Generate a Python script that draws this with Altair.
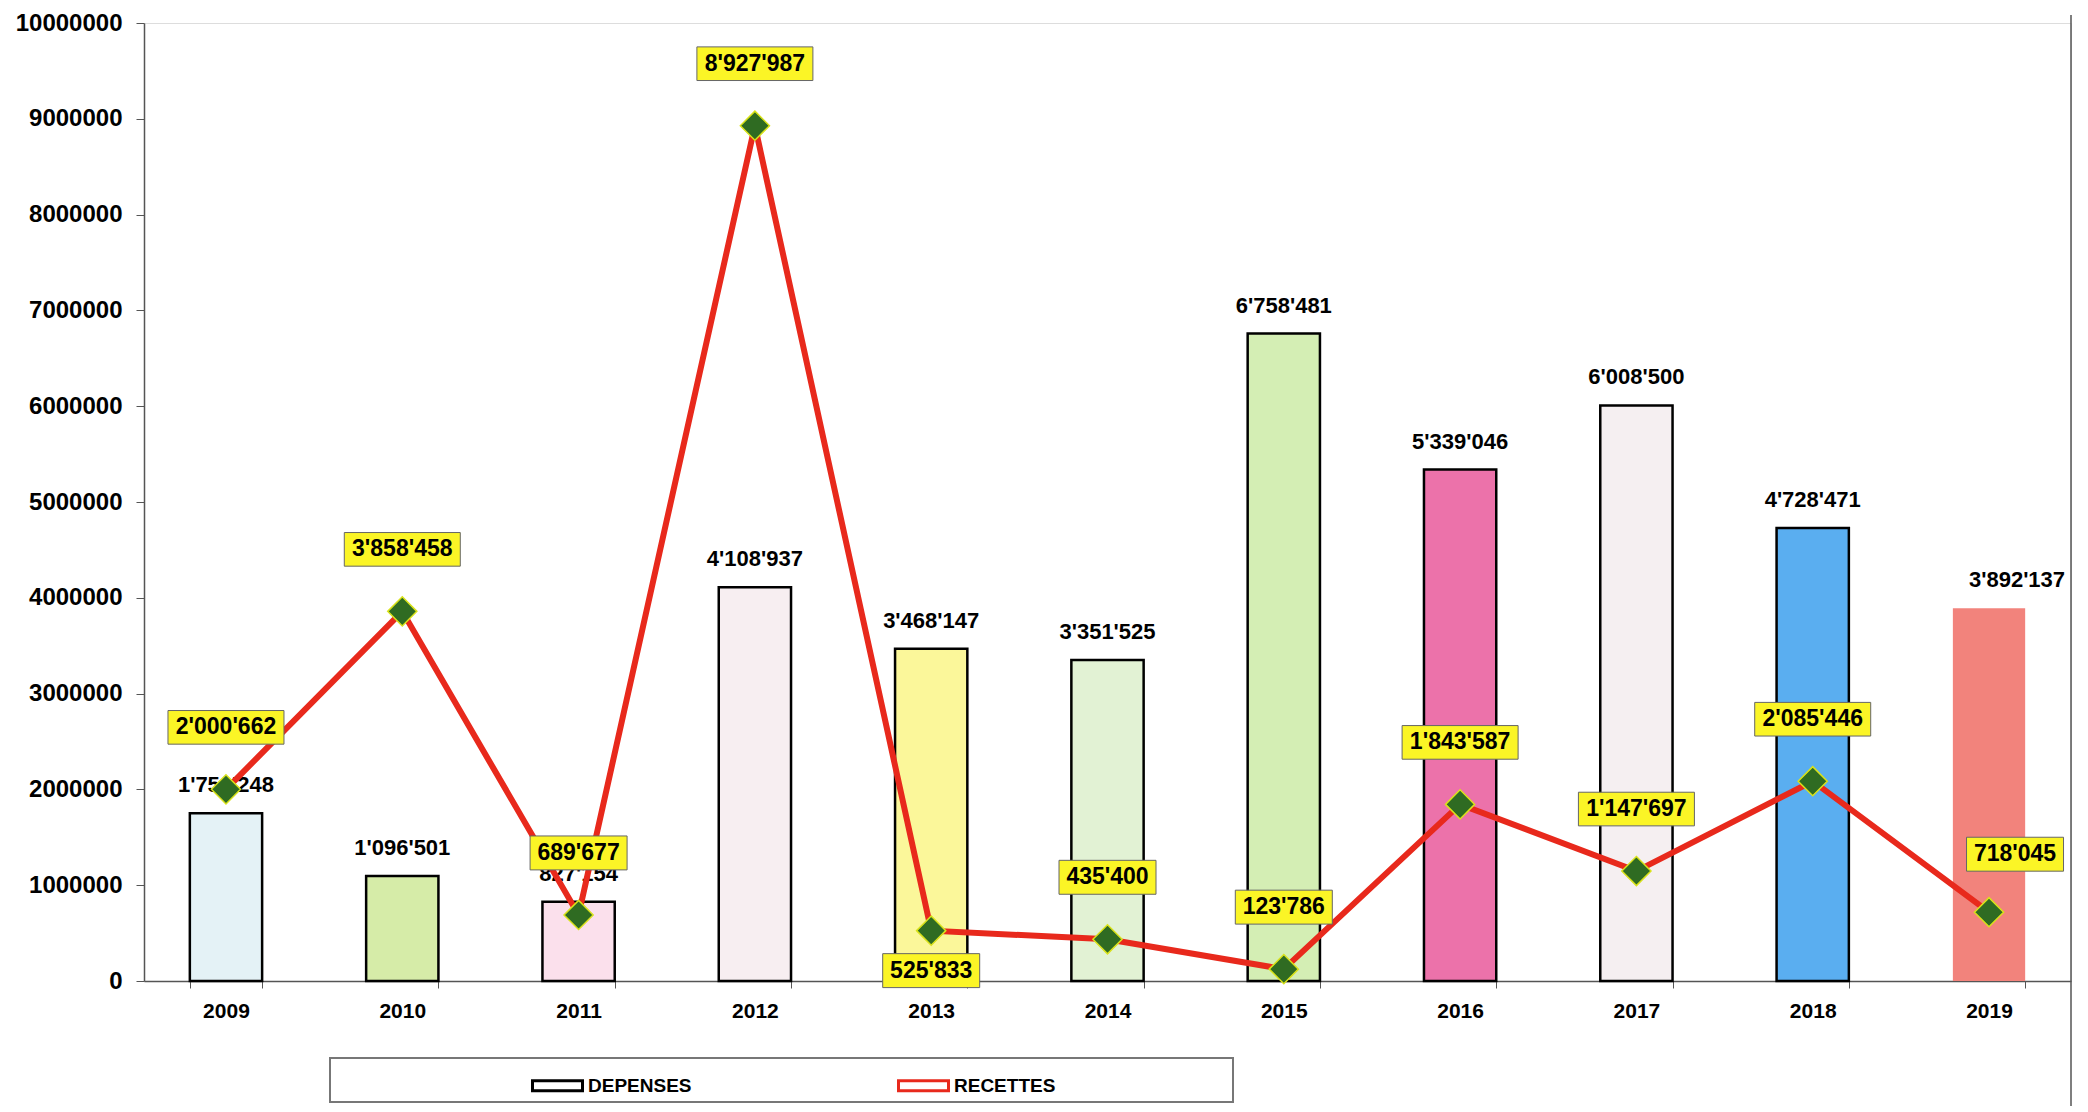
import altair as alt
import pandas as pd

years = ["2009", "2010", "2011", "2012", "2013", "2014", "2015", "2016", "2017", "2018", "2019"]
depenses = [1751248, 1096501, 827154, 4108937, 3468147, 3351525, 6758481, 5339046, 6008500, 4728471, 3892137]
recettes = [2000662, 3858458, 689677, 8927987, 525833, 435400, 123786, 1843587, 1147697, 2085446, 718045]

bar_colors = ["#e4f2f6", "#d6eca8", "#fbe0ec", "#f7eef1", "#fbf79a", "#e2f2d4",
              "#d4eeb4", "#ec72aa", "#f5eff1", "#5aaef0", "#f2837c"]


def fmt(v):
    return f"{v:,}".replace(",", "'")


df = pd.DataFrame({
    "year": years,
    "dep": depenses,
    "rec": recettes,
    "dep_lab": [fmt(v) for v in depenses],
    "rec_lab": [fmt(v) for v in recettes],
})

W, H = 1927, 958
FONT = "Liberation Sans"
RED = "#e8291c"

xenc = alt.X("year:N",
             scale=alt.Scale(paddingInner=0.59, paddingOuter=0.26),
             axis=alt.Axis(title=None, labelAngle=0, labelFont=FONT, labelFontSize=21,
                           labelFontWeight="bold", labelColor="black", tickBand="extent",
                           tickSize=7, labelPadding=12, domainColor="#555", tickColor="#555",
                           domainWidth=1.5))
yscale = alt.Scale(domain=[0, 10000000], nice=False)
yaxis = alt.Axis(title=None, values=list(range(0, 10000001, 1000000)), format="d",
                 labelFont=FONT, labelFontSize=24, labelFontWeight="bold", labelColor="black",
                 tickSize=8, labelPadding=14, domainColor="#555", tickColor="#555",
                 domainWidth=1.5, grid=False)

stroke_scale = alt.Scale(domain=["DEPENSES", "RECETTES"], range=["black", RED])
legend = alt.Legend(title=None, orient="none", legendX=387, legendY=1036,
                    direction="horizontal", symbolType="M-1,-0.2H1V0.2H-1Z",
                    symbolSize=2500, symbolStrokeWidth=3, symbolFillColor="white",
                    labelFont=FONT, labelFontSize=19, labelFontWeight="bold",
                    labelColor="black", columnPadding=200, labelOffset=4, padding=0)

base = alt.Chart(df)

bars = base.mark_bar(strokeWidth=2.5).transform_calculate(serie="'DEPENSES'").encode(
    x=xenc,
    y=alt.Y("dep:Q", scale=yscale, axis=yaxis),
    fill=alt.Fill("year:N", scale=alt.Scale(domain=years, range=bar_colors), legend=None),
    stroke=alt.Stroke("serie:N", scale=stroke_scale, legend=legend),
    strokeOpacity=alt.condition("datum.year == '2019'", alt.value(0), alt.value(1)),
)

main_years = base.transform_filter("datum.year != '2019'")
last_year = base.transform_filter("datum.year == '2019'")


def bar_labels(src, dx):
    return src.mark_text(dy=-16, dx=dx, baseline="bottom", font=FONT, fontSize=22,
                         fontWeight="bold", color="black").encode(
        x="year:N", y=alt.Y("dep:Q", scale=yscale), text="dep_lab:N")


line = base.mark_line(strokeWidth=6).transform_calculate(serie="'RECETTES'").encode(
    x="year:N", y=alt.Y("rec:Q", scale=yscale),
    stroke=alt.Stroke("serie:N", scale=stroke_scale, legend=legend))

diamonds = base.mark_point(shape="diamond", size=850, filled=True, fill="#2f6b22",
                           stroke="#d9e21a", strokeWidth=1.5, opacity=1).encode(
    x="year:N", y=alt.Y("rec:Q", scale=yscale))

LONG = "M-1,-0.29H1V0.29H-1Z"
SHORT = "M-1,-0.35H1V0.35H-1Z"
box_style = dict(filled=True, fill="#fbf526", stroke="#666", strokeWidth=1, opacity=1)

above = base.transform_filter("datum.year != '2013' && datum.year != '2019'")
below = base.transform_filter("datum.year == '2013'")


def boxes(src, off, dx=0):
    long_b = src.transform_filter("length(datum.rec_lab) > 7").mark_point(
        shape=LONG, size=13456, yOffset=off, xOffset=dx, **box_style).encode(
        x="year:N", y=alt.Y("rec:Q", scale=yscale))
    short_b = src.transform_filter("length(datum.rec_lab) <= 7").mark_point(
        shape=SHORT, size=9409, yOffset=off, xOffset=dx, **box_style).encode(
        x="year:N", y=alt.Y("rec:Q", scale=yscale))
    txt = src.mark_text(dy=off, dx=dx, baseline="middle", font=FONT, fontSize=23,
                        fontWeight="bold", color="black").encode(
        x="year:N", y=alt.Y("rec:Q", scale=yscale), text="rec_lab:N")
    return [long_b, short_b, txt]


frame_df = pd.DataFrame({"k": [0]})
frame = alt.Chart(frame_df).mark_rect(fill="white", stroke="#777", strokeWidth=2).encode(
    x=alt.value(186), x2=alt.value(1089), y=alt.value(1035), y2=alt.value(1079))
right_rule = alt.Chart(frame_df).mark_rule(color="#555", strokeWidth=1.5).encode(
    x=alt.value(W), y=alt.value(-8), y2=alt.value(H + 125))

chart = alt.layer(
    bars, bar_labels(main_years, 0), bar_labels(last_year, 28), line, diamonds,
    *boxes(above, -62), *boxes(below, 40), *boxes(last_year, -58, 26), frame, right_rule
).properties(
    width=W, height=H, padding={"left": 7, "top": 3, "right": 5, "bottom": 5}
).configure_view(stroke="transparent", strokeWidth=0).configure(background="white")

chart.save("out.html", embed_options={"renderer": "svg", "actions": False})
